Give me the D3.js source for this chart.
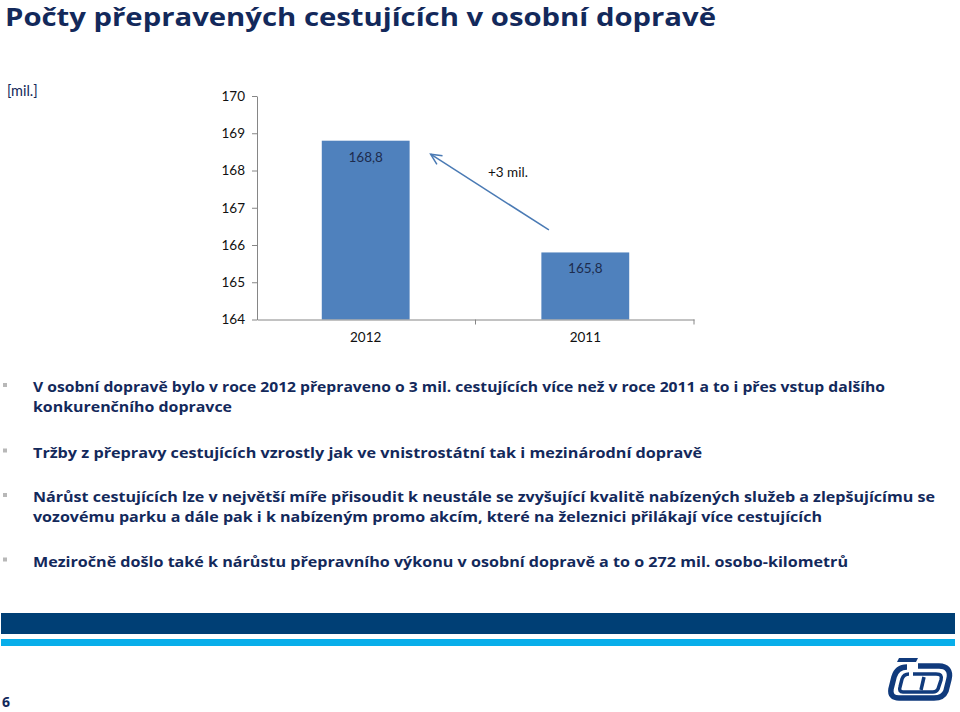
<!DOCTYPE html>
<html><head><meta charset="utf-8">
<script src="https://cdn.jsdelivr.net/npm/d3@7"></script>
<style>html,body{margin:0;padding:0;background:#fff;}svg{display:block;}</style>
</head><body>
<script>
const categories = ["2012", "2011"];
const values = [168.8, 165.8];
const valueLabels = ["168,8", "165,8"];
const yTicks = [164, 165, 166, 167, 168, 169, 170];
const title = "Počty přepravených cestujících v osobní dopravě";
const unitLabel = "[mil.]";
const diffLabel = "+3 mil.";
const bullets = [
  ["V osobní dopravě bylo v roce 2012 přepraveno o 3 mil. cestujících více než v roce 2011 a to i přes vstup dalšího", "konkurenčního dopravce"],
  ["Tržby z přepravy cestujících vzrostly jak ve vnistrostátní tak i mezinárodní dopravě"],
  ["Nárůst cestujících lze v největší míře přisoudit k neustále se zvyšující kvalitě nabízených služeb a zlepšujícímu se", "vozovému parku a dále pak i k nabízeným promo akcím, které na železnici přilákají více cestujících"],
  ["Meziročně došlo také k nárůstu přepravního výkonu v osobní dopravě a to o 272 mil. osobo-kilometrů"]
];
const pageNumber = "6";

const W = 960, H = 712;
const svg = d3.select("body").append("svg").attr("width", W).attr("height", H);
const navy = "#13295b";
const font = "Lato, 'Open Sans', sans-serif";

// Title
svg.append("text").attr("x", 5).attr("y", 26)
  .attr("font-family", "'Open Sans', Lato, sans-serif").attr("font-weight", 700)
  .attr("font-size", 25.5).attr("fill", navy)
  .attr("textLength", 711).attr("lengthAdjust", "spacingAndGlyphs")
  .text(title);

// Unit label
svg.append("text").attr("x", 7).attr("y", 96)
  .attr("font-family", font).attr("font-size", 14.5).attr("fill", navy)
  .text(unitLabel);

// Chart
const x = d3.scaleBand().domain(categories).range([257, 694]).paddingInner(0.6).paddingOuter(0.295);
const y = d3.scaleLinear().domain([164, 170]).range([319.5, 96]);

const axisColor = "#868686";
const gy = svg.append("g").attr("transform", "translate(257,0)")
  .call(d3.axisLeft(y).tickValues(yTicks).tickSize(5).tickSizeOuter(0).tickPadding(7).tickFormat(d3.format("d")));
gy.select(".domain").attr("stroke", axisColor);
gy.selectAll(".tick line").attr("stroke", axisColor);
gy.selectAll(".tick text").attr("font-family", font).attr("font-size", 13.5).attr("fill", "#111");

svg.selectAll("rect.bar").data(values).enter().append("rect").attr("class", "bar")
  .attr("x", (d, i) => x(categories[i]))
  .attr("width", x.bandwidth())
  .attr("y", d => y(d))
  .attr("height", d => y(164) - y(d))
  .attr("fill", "#4f81bd");

const gx = svg.append("g").attr("transform", `translate(0,${y(164)})`)
  .call(d3.axisBottom(x).tickSize(0).tickPadding(13));
gx.select(".domain").attr("stroke", axisColor);
gx.selectAll(".tick text").attr("font-family", font).attr("font-size", 13.5).attr("fill", "#111");
const midX = (x(categories[0]) + x.bandwidth() + x(categories[1])) / 2;
svg.append("line").attr("x1", midX).attr("x2", midX).attr("y1", y(164)).attr("y2", y(164) + 5).attr("stroke", axisColor);
svg.append("line").attr("x1", 694).attr("x2", 694).attr("y1", y(164)).attr("y2", y(164) + 5).attr("stroke", axisColor);

svg.selectAll("text.vl").data(values).enter().append("text").attr("class", "vl")
  .attr("x", (d, i) => x(categories[i]) + x.bandwidth() / 2)
  .attr("y", d => y(d) + 21)
  .attr("text-anchor", "middle").attr("font-family", font).attr("font-size", 13.5).attr("fill", "#1d2c4e")
  .text((d, i) => valueLabels[i]);

// Arrow from 2011 bar toward 2012 bar
const tipX = x(categories[0]) + x.bandwidth() + 21, tipY = y(values[0]) + 13.5;
const tailX = x(categories[1]) + 7.5, tailY = y(values[1]) - 22.5;
const ac = "#4a7ab4";
svg.append("line").attr("x1", tailX).attr("y1", tailY).attr("x2", tipX).attr("y2", tipY)
  .attr("stroke", ac).attr("stroke-width", 1.5);
const ang = Math.atan2(tailY - tipY, tailX - tipX);
const hl = 12, ha = 0.45;
svg.append("path")
  .attr("d", `M${tipX + hl * Math.cos(ang - ha)},${tipY + hl * Math.sin(ang - ha)} L${tipX},${tipY} L${tipX + hl * Math.cos(ang + ha)},${tipY + hl * Math.sin(ang + ha)}`)
  .attr("fill", "none").attr("stroke", ac).attr("stroke-width", 1.5);
svg.append("text").attr("x", 488).attr("y", 177)
  .attr("font-family", font).attr("font-size", 13.5).attr("fill", "#111").text(diffLabel);

// Bullets
const baselines = [[392, 411.5], [457.5], [502, 521.5], [566.5]];
const widths = [[852, 199], [669], [902, 789], [815]];
bullets.forEach((lines, i) => {
  svg.append("rect").attr("x", 3).attr("y", baselines[i][0] - 9).attr("width", 4).attr("height", 4).attr("fill", "#b8b8b8");
  lines.forEach((ln, j) => {
    svg.append("text").attr("x", 33).attr("y", baselines[i][j])
      .attr("font-family", "'Open Sans', Lato, sans-serif").attr("font-weight", 700)
      .attr("font-size", 15).attr("fill", navy)
      .attr("textLength", widths[i][j]).attr("lengthAdjust", "spacingAndGlyphs")
      .text(ln);
  });
});

// Footer bands
svg.append("rect").attr("x", 1).attr("y", 613).attr("width", 954).attr("height", 21).attr("fill", "#003f75");
svg.append("rect").attr("x", 1).attr("y", 639).attr("width", 954).attr("height", 7).attr("fill", "#08aeea");

// Page number
svg.append("text").attr("x", 2).attr("y", 707)
  .attr("font-family", "'Open Sans', sans-serif").attr("font-weight", 700).attr("font-size", 14).attr("fill", navy)
  .text(pageNumber);

// Logo (approximation of ČD mark)
const lc = "#103a7c";
const lg = svg.append("g");
lg.append("path").attr("d", "M899,658 L918,658 L916,662 L897,662 Z").attr("fill", lc);
lg.append("path").attr("d", "M918,666 L939,666 C947,666 951,671 949,679 L946,691 C944,696 940,698 934,698 L899,698 C893,698 890,695 891,689 L894,677 C896,670 900,667 907,667")
  .attr("fill", "none").attr("stroke", lc).attr("stroke-width", 5.5);
lg.append("path").attr("d", "M913,674 L936,674 C941,674 942,676 941,680 L938,689 C937,691 936,692 933,692 L903,692 C900,692 899,690 900,687 L902,679 C903,676 905,674 909,674")
  .attr("fill", "none").attr("stroke", lc).attr("stroke-width", 3.5);
lg.append("path").attr("d", "M924,677 L921,690").attr("stroke", lc).attr("stroke-width", 3.5);
</script>
</body></html>
